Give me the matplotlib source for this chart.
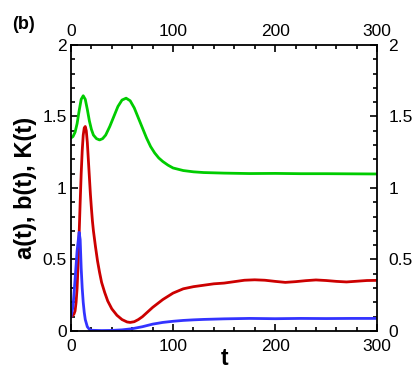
import numpy as np
import matplotlib
matplotlib.use("Agg")
import matplotlib.pyplot as plt
from matplotlib.ticker import MultipleLocator, FixedLocator, FuncFormatter

# ---- data ----
t_K = [0, 2, 4, 6, 8, 10, 12, 14, 16, 18, 20, 22, 25, 28, 31, 34, 38, 42, 46, 50,
       54, 58, 62, 66, 70, 74, 78, 82, 86, 90, 95, 100, 110, 120, 130, 150, 175,
       200, 225, 250, 275, 300]
K_t = [1.35, 1.36, 1.39, 1.45, 1.54, 1.62, 1.645, 1.62, 1.55, 1.47, 1.41, 1.37,
       1.345, 1.336, 1.345, 1.37, 1.43, 1.50, 1.57, 1.615, 1.628, 1.61, 1.56,
       1.49, 1.42, 1.35, 1.29, 1.245, 1.21, 1.185, 1.16, 1.14, 1.122, 1.113,
       1.108, 1.104, 1.101, 1.102, 1.100, 1.100, 1.099, 1.098]

t_a = [0, 2, 3, 4, 5, 6, 7, 8, 9, 10, 11, 12, 13, 14, 15, 16, 17, 18, 19, 20, 21,
       22, 24, 26, 28, 30, 33, 36, 40, 45, 50, 55, 58, 62, 66, 70, 80, 90, 100,
       110, 120, 130, 140, 150, 160, 170, 180, 190, 200, 210, 220, 230, 240, 250,
       260, 270, 280, 290, 300]
a_t = [0.10, 0.11, 0.12, 0.14, 0.20, 0.30, 0.47, 0.68, 0.90, 1.10, 1.26, 1.37,
       1.42, 1.43, 1.40, 1.32, 1.20, 1.08, 0.96, 0.86, 0.77, 0.70, 0.59, 0.49,
       0.41, 0.34, 0.27, 0.21, 0.155, 0.11, 0.08, 0.063, 0.06, 0.065, 0.08, 0.10,
       0.165, 0.22, 0.265, 0.295, 0.31, 0.32, 0.33, 0.335, 0.345, 0.355, 0.358,
       0.355, 0.347, 0.340, 0.345, 0.352, 0.357, 0.353, 0.347, 0.343, 0.348,
       0.353, 0.354]

t_b = [0, 2, 4, 6, 8, 9, 10, 11, 12, 13, 14, 16, 18, 20, 30, 40, 50, 60, 70, 80,
       90, 100, 110, 120, 130, 150, 175, 200, 225, 250, 275, 300]
b_t = [0.10, 0.17, 0.36, 0.56, 0.69, 0.64, 0.44, 0.30, 0.20, 0.13, 0.08, 0.03,
       0.012, 0.005, 0.003, 0.004, 0.008, 0.016, 0.03, 0.048, 0.06, 0.068, 0.074,
       0.078, 0.081, 0.085, 0.088, 0.086, 0.088, 0.087, 0.088, 0.088]

x_ticks = [0, 100, 200, 300]
y_ticks = [0, 0.5, 1, 1.5, 2]

plt.rcParams['font.family'] = ['Liberation Sans', 'DejaVu Sans']

fig = plt.figure(figsize=(4.2, 3.73), dpi=100)
ax = fig.add_axes([0.169, 0.1126, 0.729, 0.7668])

ax.plot(t_K, K_t, color='#00cc00', lw=2)
ax.plot(t_a, a_t, color='#cc0000', lw=2)
ax.plot(t_b, b_t, color='#3333ff', lw=2)

ax.set_xlim(0, 300)
ax.set_ylim(0, 2)

fmt = FuncFormatter(lambda v, p: '%g' % v)
ax.xaxis.set_major_locator(FixedLocator(x_ticks))
ax.xaxis.set_minor_locator(MultipleLocator(20))
ax.yaxis.set_major_locator(FixedLocator(y_ticks))
ax.yaxis.set_minor_locator(MultipleLocator(0.1))
ax.yaxis.set_major_formatter(fmt)

ax.tick_params(which='both', direction='in', top=True, right=True,
               labelsize=12.5, width=1.2)
ax.tick_params(which='major', length=5)
ax.tick_params(which='minor', length=3)
ax.tick_params(axis='y', pad=3)
ax.tick_params(axis='x', pad=6)

# labels on top and right
sx = ax.secondary_xaxis('top')
sx.xaxis.set_major_locator(FixedLocator(x_ticks))
sx.xaxis.set_minor_locator(FixedLocator([]))
sx.tick_params(length=0, labelsize=12.5, pad=4)
sy = ax.secondary_yaxis('right')
sy.yaxis.set_major_locator(FixedLocator(y_ticks))
sy.yaxis.set_minor_locator(FixedLocator([]))
sy.yaxis.set_major_formatter(fmt)
sy.tick_params(length=0, labelsize=12.5, pad=8)
for s in ('top', 'right', 'bottom', 'left'):
    ax.spines[s].set_linewidth(1.3)
sx.spines['top'].set_visible(False)
sy.spines['right'].set_visible(False)

ax.set_xlabel('t', fontsize=16.5, fontweight='bold', labelpad=-5)
ax.set_ylabel('a(t), b(t), K(t)', fontsize=17, fontweight='bold', labelpad=4)
fig.text(0.028, 0.935, '(b)', fontsize=13, fontweight='bold', va='center')

fig.savefig('out.png', dpi=100)
